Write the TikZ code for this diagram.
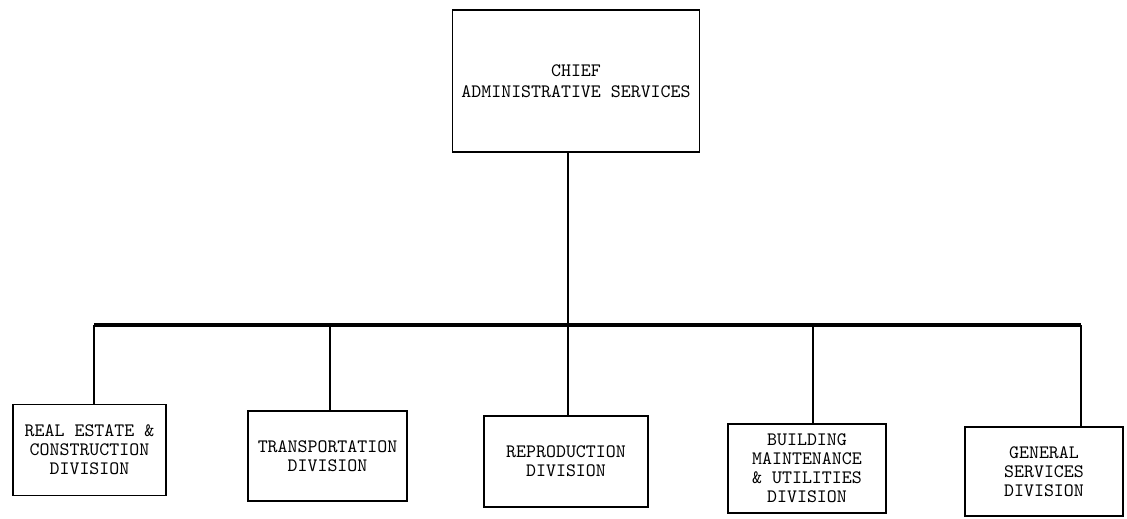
\documentclass[tikz,border=0pt]{standalone}
\usepackage{tikz}

\begin{document}
\begin{tikzpicture}[x=0.02cm, y=-0.02cm,
        unit/.style={draw, line width=.8pt, align=center, inner sep=2pt,
            font=\ttfamily\fontsize{10.8}{10.8}\selectfont},
        link/.style={line width=1.5pt}]
        \useasboundingbox (0, 0) rectangle (1127, 518);

        \node[unit, minimum width=247*0.02cm, minimum height=142*0.02cm] (chief) at (576, 81) {CHIEF\\[1pt]ADMINISTRATIVE SERVICES};

        \node[unit, minimum width=153*0.02cm, minimum height=91*0.02cm] (realestate) at (89.5, 450) {REAL ESTATE \&\\CONSTRUCTION\\DIVISION};
        \node[unit, minimum width=159*0.02cm, minimum height=90*0.02cm] (transport) at (327.5, 456) {TRANSPORTATION\\DIVISION};
        \node[unit, minimum width=164*0.02cm, minimum height=91*0.02cm] (repro) at (566, 461.5) {REPRODUCTION\\DIVISION};
        \node[unit, minimum width=158*0.02cm, minimum height=89*0.02cm] (building) at (807, 468.5) {BUILDING\\MAINTENANCE\\\& UTILITIES\\DIVISION};
        \node[unit, minimum width=158*0.02cm, minimum height=89*0.02cm] (general) at (1044, 471.5) {GENERAL\\SERVICES\\DIVISION};

        % the bus and its junctions
        \coordinate (j1) at (94, 325);
        \coordinate (j2) at (330, 325);
        \coordinate (j3) at (568, 325);
        \coordinate (j4) at (813, 325);
        \coordinate (j5) at (1081, 325);

        \draw[line width=2pt] (j1) -- (j5);
        \draw[link] (chief.south -| j3) -- (j3);

        \draw[link] (j1) -- (j1 |- realestate.north);
        \draw[link] (j2) -- (j2 |- transport.north);
        \draw[link] (j3) -- (j3 |- repro.north);
        \draw[link] (j4) -- (j4 |- building.north);
        \draw[link] (j5) -- (j5 |- general.north);
    \end{tikzpicture}
\end{document}
